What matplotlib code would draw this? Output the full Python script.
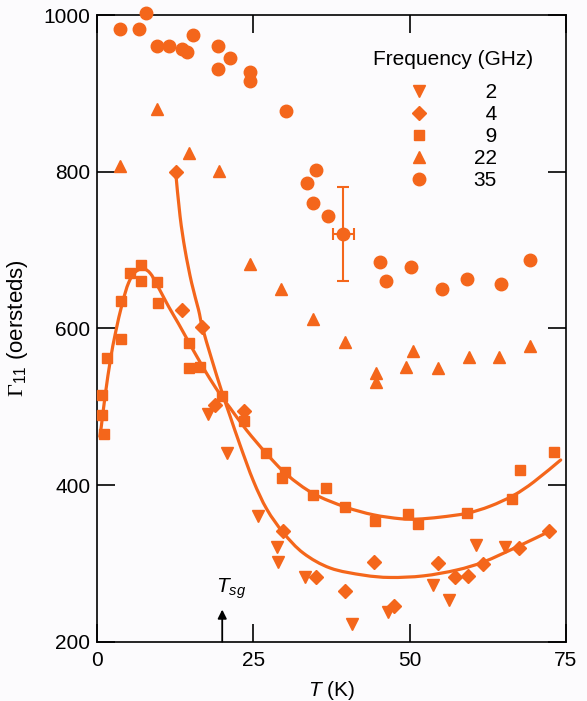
import matplotlib
matplotlib.use("Agg")
import matplotlib.pyplot as plt
from matplotlib.path import Path
from matplotlib.patches import PathPatch
import numpy as np

plt.rcParams['font.family'] = ['Liberation Sans', 'DejaVu Sans']
plt.rcParams['mathtext.fontset'] = 'custom'
plt.rcParams['mathtext.rm'] = 'Liberation Serif'
plt.rcParams['mathtext.it'] = 'Liberation Sans:italic'
plt.rcParams['mathtext.sf'] = 'Liberation Sans'

ORANGE = '#F4661B'
FS = 15

# ---- data (T in K, Gamma_11 in oersteds) ----
t_2 = [17.7, 20.7, 25.8, 28.85, 29.0, 33.3, 40.8, 46.5, 53.75, 56.25, 60.7, 65.3]
g_2 = [491, 441, 360, 321, 302, 282, 222, 238, 272, 253, 323, 321]

t_4 = [12.6, 13.6, 16.7, 18.9, 23.5, 29.7, 35.0, 39.7, 44.3, 47.5, 54.6, 57.3, 59.4, 61.8, 67.5, 72.3]
g_4 = [800, 624, 602, 502, 494, 341, 282, 265, 302, 245, 301, 282, 284, 299, 320, 341]

t_9 = [0.75, 0.75, 1.0, 1.55, 3.8, 3.8, 5.3, 7.05, 7.05, 9.6, 9.7, 14.6, 14.6, 16.5, 20.0,
       23.5, 27.0, 30.1, 29.6, 34.5, 36.6, 39.7, 44.5, 49.8, 51.4, 59.2, 66.4, 67.7, 73.1]
g_9 = [515, 490, 465, 562, 586, 635, 671, 681, 661, 659, 632, 581, 549, 551, 514,
       482, 441, 417, 409, 387, 396, 372, 354, 363, 350, 364, 382, 419, 442]

t_22 = [3.6, 9.6, 14.7, 19.55, 24.5, 29.4, 34.5, 39.6, 44.6, 44.6, 49.4, 50.6, 54.6, 59.5, 64.4, 69.3]
g_22 = [807, 880, 824, 801, 682, 650, 612, 583, 543, 531, 551, 571, 550, 563, 563, 578]

t_35 = [3.6, 6.6, 7.75, 9.5, 11.5, 13.5, 14.3, 15.3, 19.4, 19.4, 21.2, 24.5, 24.5, 30.2,
        33.6, 35.0, 34.6, 36.9, 45.3, 46.3, 50.3, 55.2, 59.2, 64.7, 69.3]
g_35 = [982, 982, 1002, 961, 961, 957, 953, 974, 961, 931, 945, 927, 916, 878,
        785, 802, 760, 743, 685, 661, 678, 650, 663, 657, 687]

# representative 35 GHz point with error bars
t_err, g_err = [39.4], [721]
t_err_size, g_err_size = [1.7], [60]

# hand-drawn fitted curves
fit9_t = [0.4, 0.64, 1.3, 2.1, 2.9, 4.0, 5.0, 6.1, 7.4, 8.5, 9.6, 11.4, 13.0, 14.6, 16.3,
          18.0, 19.9, 21.3, 23.9, 27.1, 30.4, 34.6, 39.7, 44.2, 48.5, 51.2, 54.9, 59.2,
          62.9, 66.7, 69.9, 74.2]
fit9_g = [462, 475, 517, 560, 594, 632, 658, 672, 676, 670, 655, 628, 606, 583, 559,
          536, 513, 498, 470, 440, 413, 389, 372, 362, 357, 356.5, 359, 364,
          373, 387, 404, 432]

fit4_t = [12.55, 13.25, 14.05, 15.1, 16.2, 16.8, 18.3, 19.9, 21.3, 22.9, 25.0, 27.15,
          29.8, 33.0, 37.3, 42.6, 46.9, 52.2, 57.6, 61.9, 67.2, 72.3]
fit4_g = [799, 743, 700, 658, 624, 602, 561, 520, 487, 450, 405, 369,
          339, 313, 294, 285, 282, 284, 291.6, 302, 321, 340.5]

freq_labels = ['2', '4', '9', '22', '35']
x_ticks = [0, 25, 50, 75]
y_ticks = [200, 400, 600, 800, 1000]
t_sg = 20


def smooth_path(xs, ys):
    """Catmull-Rom spline through the given points, as cubic Bezier segments."""
    p = np.column_stack([xs, ys]).astype(float)
    verts = [p[0]]
    codes = [Path.MOVETO]
    n = len(p)
    for i in range(n - 1):
        p0 = p[i - 1] if i > 0 else p[i]
        p1, p2 = p[i], p[i + 1]
        p3 = p[i + 2] if i + 2 < n else p[i + 1]
        c1 = p1 + (p2 - p0) / 6.0
        c2 = p2 - (p3 - p1) / 6.0
        verts += [c1, c2, p2]
        codes += [Path.CURVE4] * 3
    return Path(verts, codes)


# ---- figure ----
fig = plt.figure(figsize=(5.87, 7.01), dpi=100, facecolor='#FCFBFD')
ax = fig.add_axes([0.1658, 0.0846, 0.7979, 0.894])
ax.set_facecolor('#FCFBFD')

for xs, ys in [(fit9_t, fit9_g), (fit4_t, fit4_g)]:
    ax.add_patch(PathPatch(smooth_path(xs, ys), facecolor='none', edgecolor=ORANGE,
                           lw=2.3, capstyle='round', zorder=2))

kw = dict(linestyle='none', color=ORANGE, clip_on=False, zorder=3)
h2, = ax.plot(t_2, g_2, marker='v', ms=9, **kw)
h4, = ax.plot(t_4, g_4, marker='D', ms=7, **kw)
h9, = ax.plot(t_9, g_9, marker='s', ms=7.5, **kw)
h22, = ax.plot(t_22, g_22, marker='^', ms=9, **kw)
h35, = ax.plot(t_35, g_35, marker='o', ms=9, **kw)

ax.errorbar(t_err, g_err, xerr=t_err_size, yerr=g_err_size, fmt='o', ms=9,
            color=ORANGE, ecolor=ORANGE, elinewidth=1.5, capsize=4.5, capthick=1.5, zorder=3)

ax.set_xlim(0, 75)
ax.set_ylim(200, 1000)
ax.set_xticks(x_ticks)
ax.set_yticks(y_ticks)
ax.tick_params(direction='in', length=13, width=1.2, labelsize=FS, top=True, right=True,
               labeltop=False, labelright=False)
ax.tick_params(axis='x', pad=7)
ax.tick_params(axis='y', pad=5)
for s in ax.spines.values():
    s.set_linewidth(1.2)

ax.set_xlabel(r'$T$ (K)', fontsize=FS, labelpad=6)
ax.set_ylabel(r'$\Gamma_{\mathsf{11}}$ (oersteds)', fontsize=FS + 1, labelpad=10)

# spin-glass temperature marker
ax.annotate('', xy=(t_sg, 241), xytext=(t_sg, 200),
            arrowprops=dict(arrowstyle='-|>', color='black', lw=1.3, mutation_scale=13,
                            shrinkA=0, shrinkB=0),
            annotation_clip=False)
ax.text(t_sg + 1.4, 252, r'$T_{sg}$', fontsize=FS, ha='center', va='bottom')

fsp = '\u2007'
leg_labels = [(fsp * (2 - len(s))) + s for s in freq_labels]
leg = ax.legend([h2, h4, h9, h22, h35], leg_labels, title='Frequency (GHz)',
                loc='upper right', bbox_to_anchor=(0.930, 0.944), frameon=False,
                fontsize=FS, title_fontsize=FS, handlelength=1.0, handletextpad=2.1,
                labelspacing=0.15, borderpad=0, borderaxespad=0)
leg._legend_box.sep = 10

fig.savefig('out.png', dpi=100, facecolor=fig.get_facecolor())
